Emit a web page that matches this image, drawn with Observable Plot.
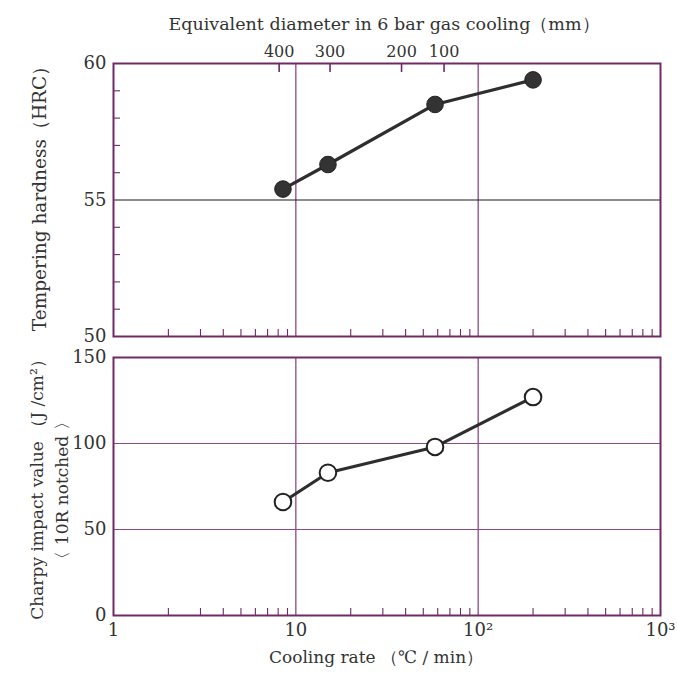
<!DOCTYPE html>
<html>
<head>
<meta charset="utf-8">
<script src="https://cdn.jsdelivr.net/npm/d3@7"></script>
<script src="https://cdn.jsdelivr.net/npm/@observablehq/plot@0.6"></script>
<style>
  html, body { margin: 0; padding: 0; background: #fff; }
  #chart { position: relative; width: 677px; height: 675px; font-family: "DejaVu Serif", "Liberation Serif", serif; }
  #chart svg { position: absolute; left: 0; overflow: visible; }
</style>
</head>
<body>
<div id="chart"></div>
<script>
// Cooling rate (°C/min) of each measured point
const coolingRates = [8.5, 15, 58, 200];
// Tempering hardness (HRC)
const hardness = [55.4, 56.3, 58.5, 59.4];
// Charpy impact value (J/cm², 10R notched)
const charpy = [66, 83, 98, 127];
// Equivalent diameter tick labels (mm) and cooling rate at which they sit
const diameterLabels = ["400", "300", "200", "100"];
const diameterRates = [8.1, 15.4, 38, 65];
// Axis ticks
const xMajorTicks = [1, 10, 100, 1000];
const xMajorLabels = ["1", "10", "10²", "10³"];
const xMinorTicks = [2,3,4,5,6,7,8,9,20,30,40,50,60,70,80,90,200,300,400,500,600,700,800,900];
const hardnessTicks = [50, 55, 60];
const hardnessMinor = [51, 52, 53, 54, 56, 57, 58, 59];
const charpyTicks = [0, 50, 100, 150];

const frameColor = "#6e2a66";
const gridColor = "#8a4a88";
const lineColor = "#2e2e2e";
const textColor = "#333";
const W = 677;
const ML = 113, MR = 17;
const fontFamily = '"DejaVu Serif", "Liberation Serif", serif';

const ptsTop = coolingRates.map((x, i) => ({x, y: hardness[i]}));
const ptsBot = coolingRates.map((x, i) => ({x, y: charpy[i]}));
const diam = diameterRates.map((x, i) => ({x, label: diameterLabels[i]}));

// ---------- Top panel ----------
const topH = 345, topMT = 63, topMB = 9;
const topFrameH = topH - topMT - topMB;
const topPlot = Plot.plot({
  width: W, height: topH,
  marginLeft: ML, marginRight: MR, marginTop: topMT, marginBottom: topMB,
  style: {fontFamily, fontSize: "17px", color: textColor, background: "transparent"},
  x: {type: "log", domain: [1, 1000]},
  y: {domain: [50, 60]},
  marks: [
    Plot.ruleX([10, 100], {stroke: gridColor, strokeWidth: 1.3}),
    Plot.ruleY([55], {stroke: "#1a1a1a", strokeWidth: 1.1}),
    Plot.ruleX(xMinorTicks, {stroke: frameColor, strokeWidth: 1.1, insetTop: topFrameH - 7}),
    Plot.ruleY(hardnessMinor, {stroke: frameColor, strokeWidth: 1.1, insetRight: (W - ML - MR) - 7}),
    Plot.ruleX(diam, {x: "x", stroke: frameColor, strokeWidth: 1.6, insetBottom: topFrameH - 9}),
    Plot.text(diam, {x: "x", text: "label", frameAnchor: "top", dy: -18, fontSize: 16, fill: textColor}),
    Plot.text(["Equivalent diameter in 6 bar gas cooling（mm）"], {frameAnchor: "top", dx: -3, dy: -46, fontSize: 17.5, fill: textColor}),
    Plot.frame({stroke: frameColor, strokeWidth: 2}),
    Plot.axisY({ticks: hardnessTicks, tickSize: 0, tickPadding: 7, fontSize: 18, label: null}),
    Plot.axisX({ticks: [], label: null}),
    Plot.text(["Tempering hardness（HRC）"], {frameAnchor: "left", dx: -73, dy: -6, rotate: -90, textAnchor: "middle", fontSize: 18.5, fill: textColor}),
    Plot.line(ptsTop, {x: "x", y: "y", stroke: lineColor, strokeWidth: 3.2}),
    Plot.dot(ptsTop, {x: "x", y: "y", r: 8.3, fill: "#333", stroke: "#222", strokeWidth: 1})
  ]
});
topPlot.style.top = "0px";

// ---------- Bottom panel ----------
const botTop = 345, botH = 675 - 345, botMT = 12, botMB = 60;
const botFrameH = botH - botMT - botMB;
const bottomPlot = Plot.plot({
  width: W, height: botH,
  marginLeft: ML, marginRight: MR, marginTop: botMT, marginBottom: botMB,
  style: {fontFamily, fontSize: "17px", color: textColor, background: "transparent"},
  x: {type: "log", domain: [1, 1000]},
  y: {domain: [0, 150]},
  marks: [
    Plot.ruleX([10, 100], {stroke: gridColor, strokeWidth: 1.3}),
    Plot.ruleY([50, 100], {stroke: gridColor, strokeWidth: 1.1}),
    Plot.ruleX(xMinorTicks, {stroke: frameColor, strokeWidth: 1.1, insetTop: botFrameH - 7}),
    Plot.frame({stroke: frameColor, strokeWidth: 2}),
    Plot.axisY({ticks: charpyTicks, tickSize: 0, tickPadding: 7, fontSize: 18, label: null}),
    Plot.axisX({ticks: xMajorTicks, tickFormat: d => xMajorLabels[xMajorTicks.indexOf(d)], tickSize: 0, tickPadding: 8, fontSize: 18, label: null}),
    Plot.text(["Cooling rate （℃ / min）"], {frameAnchor: "bottom", dx: -11, dy: 47, fontSize: 17, fill: textColor}),
    Plot.text(["Charpy impact value （J /cm²）"], {frameAnchor: "left", dx: -76, dy: 128 - botFrameH / 2, rotate: -90, textAnchor: "middle", fontSize: 17, fill: textColor}),
    Plot.text(["〈 10R notched 〉"], {frameAnchor: "left", dx: -51, dy: 133 - botFrameH / 2, rotate: -90, textAnchor: "middle", fontSize: 17, fill: textColor}),
    Plot.line(ptsBot, {x: "x", y: "y", stroke: lineColor, strokeWidth: 3.2}),
    Plot.dot(ptsBot, {x: "x", y: "y", r: 8.3, fill: "#fff", stroke: "#222", strokeWidth: 2})
  ]
});
bottomPlot.style.top = botTop + "px";

const chart = document.getElementById("chart");
chart.appendChild(topPlot);
chart.appendChild(bottomPlot);
</script>
</body>
</html>
